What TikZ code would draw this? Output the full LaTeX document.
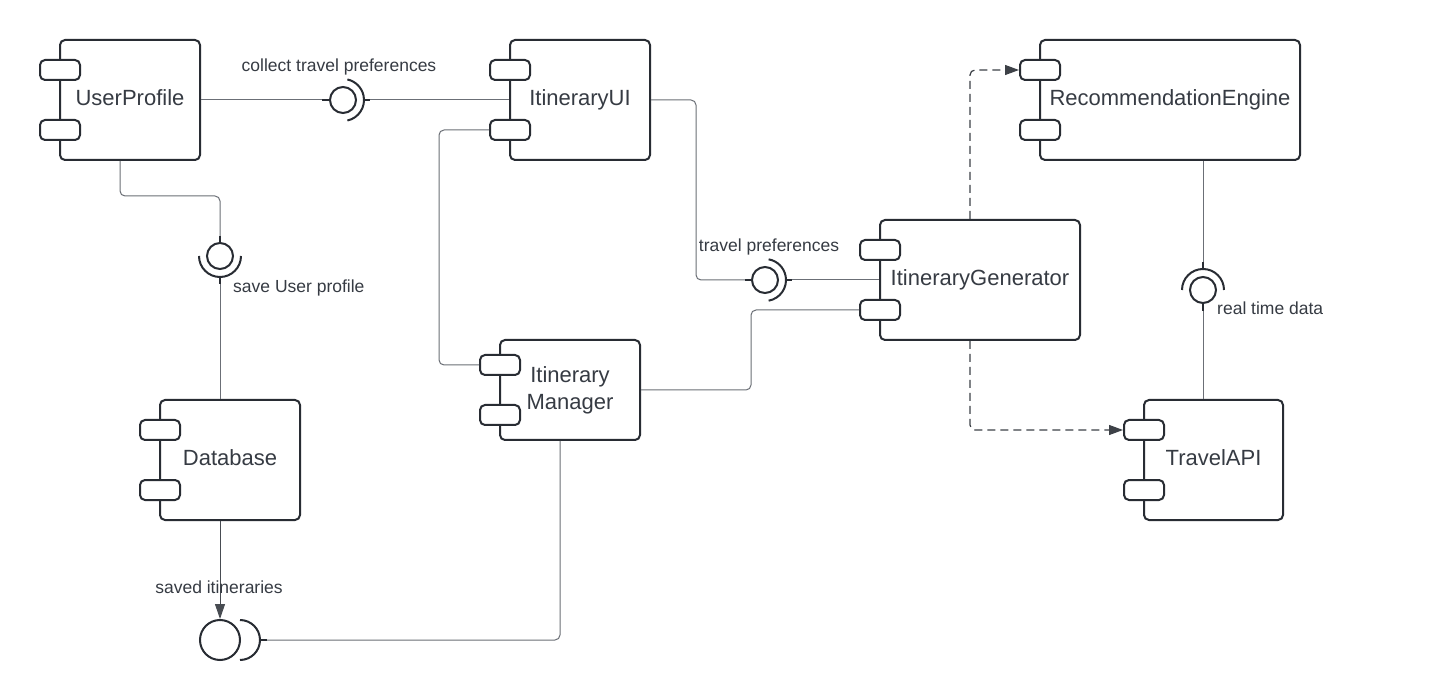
\documentclass[tikz,border=0pt]{standalone}
\usepackage{fontspec}
\setmainfont{Liberation Sans}
\usetikzlibrary{arrows.meta,calc}
\definecolor{boxc}{HTML}{282C33}
\definecolor{txtc}{HTML}{363B43}
\definecolor{linec}{HTML}{6B6F76}
\begin{document}
\begin{tikzpicture}[x=1pt,y=-1pt,
  comp/.style={draw=boxc,line width=2pt,rounded corners=5pt,fill=white,inner sep=0pt,
    text=txtc,font=\fontsize{22}{27}\selectfont,align=center},
  oneline/.style={text height=16pt,text depth=5pt},
  port/.style={draw=boxc,line width=2pt,rounded corners=5pt,fill=white,
    minimum width=40pt,minimum height=20pt,inner sep=0pt},
  conn/.style={draw=linec,line width=1pt,rounded corners=5pt},
  dep/.style={draw=boxc!90,line width=1.2pt,dash pattern=on 8pt off 5pt,rounded corners=5pt,
    -{Triangle[length=14pt,width=10pt]}},
  ball/.style={circle,draw=boxc,line width=2pt,minimum size=26pt,inner sep=0pt},
  sock/.style={draw=boxc,line width=2pt},
  lbl/.style={text=txtc,font=\fontsize{17.5}{20}\selectfont,inner sep=0pt},
]
\useasboundingbox[fill=white] (0,0) rectangle (1430,700);

% components
\node[comp,oneline,minimum width=140pt,minimum height=120pt] (up) at (130,100) {UserProfile};
\node[port] (upP1) at (60,70) {};
\node[port] (upP2) at (60,130) {};

\node[comp,oneline,minimum width=140pt,minimum height=120pt] (ui) at (580,100) {ItineraryUI};
\node[port] (uiP1) at (510,70) {};
\node[port] (uiP2) at (510,130) {};

\node[comp,oneline,minimum width=260pt,minimum height=120pt] (re) at (1170,100) {RecommendationEngine};
\node[port] (reP1) at (1040,70) {};
\node[port] (reP2) at (1040,130) {};

\node[comp,oneline,minimum width=200pt,minimum height=120pt] (ig) at (980,280) {ItineraryGenerator};
\node[port] (igP1) at (880,250) {};
\node[port] (igP2) at (880,310) {};

\node[comp,minimum width=140pt,minimum height=100pt] (im) at (570,390) {Itinerary\\Manager};
\node[port] (imP1) at (500,365) {};
\node[port] (imP2) at (500,415) {};

\node[comp,oneline,minimum width=140pt,minimum height=120pt] (db) at (230,460) {Database};
\node[port] (dbP1) at (160,430) {};
\node[port] (dbP2) at (160,490) {};

\node[comp,oneline,minimum width=139pt,minimum height=120pt] (ta) at (1213.5,460) {TravelAPI};
\node[port] (taP1) at (1144,430) {};
\node[port] (taP2) at (1144,490) {};

% provided / required interfaces
\node[ball] (b1) at (343,100) {};
\coordinate (c1) at (343,100);
\coordinate (s1) at (364,100);
\draw[sock] ([shift={(-78:21pt)}]c1) arc[start angle=-78,end angle=78,radius=21pt];

\node[ball] (b2) at (220,256) {};
\coordinate (c2) at (220,256);
\coordinate (s2) at (220,277);
\draw[sock] ([shift={(180:21pt)}]c2) arc[start angle=180,end angle=360,radius=21pt];

\node[ball] (b3) at (765,280) {};
\coordinate (c3) at (765,280);
\coordinate (s3) at (786,280);
\draw[sock] ([shift={(-80:21pt)}]c3) arc[start angle=-80,end angle=80,radius=21pt];

\node[ball] (b4) at (1203,290) {};
\coordinate (c4) at (1203,290);
\coordinate (s4) at (1203,269);
\draw[sock] ([shift={(0:21pt)}]c4) arc[start angle=0,end angle=180,radius=21pt];

\node[ball,minimum size=40pt] (b5) at (220,640) {};
\coordinate (c5) at (240,640);
\coordinate (s5) at (260,640);
\draw[sock] ([shift={(-90:20pt)}]c5) arc[start angle=-90,end angle=90,radius=20pt];

% connectors
\draw[conn] (up.east) -- (b1);
\draw[conn] (s1) -- (ui.west);
\draw[conn] ([xshift=-10pt]up.south) -- ++(0,35) -| (b2);
\draw[conn] (s2) -- (s2 |- db.north);
\draw[conn] (ui.east) -- ++(45,0) |- (b3);
\draw[conn] (ig.west) -- (s3);
\draw[conn] (uiP2.west) -- ++(-50,0) |- (imP1.west);
\draw[conn] (im.east) -- ++(110,0) |- (igP2.west);
\draw[dep] ([xshift=-10pt]ig.north) |- (reP1.west);
\draw[dep] ([xshift=-10pt]ig.south) |- (taP1.west);
\draw[conn] ([xshift=33pt]re.south) -- (s4);
\draw[conn] (b4) -- (b4 |- ta.north);
\draw[draw=boxc!85,line width=1pt,-{Triangle[length=15pt,width=10pt]}] ([xshift=-10pt]db.south) -- (b5);
\draw[conn] (s5) -| ([xshift=-10pt]im.south);

% short heavy stubs where lines meet the interface symbols
\draw[sock] (322,100) -- (b1.west);
\draw[sock] (s1) -- ++(6,0);
\draw[sock] (220,236) -- (b2.north);
\draw[sock] (s2) -- ++(0,7);
\draw[sock] (745,280) -- (b3.west);
\draw[sock] (s3) -- ++(6,0);
\draw[sock] (1203,262) -- (s4);
\draw[sock] (b4.south) -- ++(0,7);
\draw[sock] (s5) -- ++(7,0);

% labels
\node[lbl] (l1) at (339,67) {collect travel preferences};
\node[lbl,anchor=west] (l2) at (233,288) {save User profile};
\node[lbl] (l3) at (769,247) {travel preferences};
\node[lbl,anchor=west] (l4) at (1217,308) {real time data};
\node[lbl] (l5) at (219,587) {saved itineraries};
\end{tikzpicture}
\end{document}
